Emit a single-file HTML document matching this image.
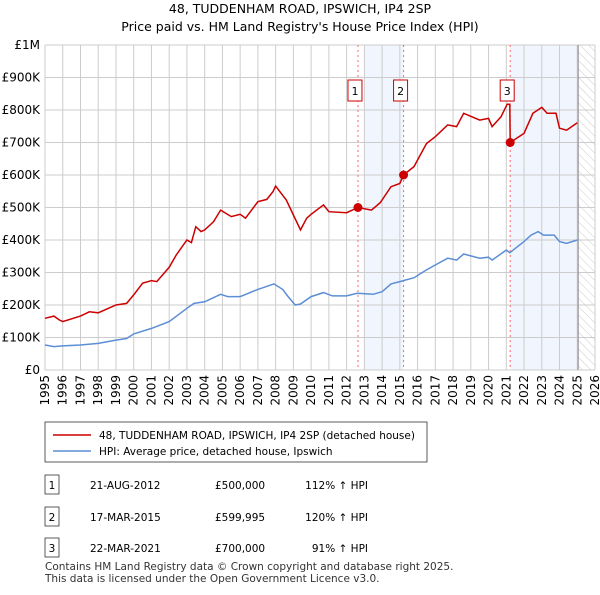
<!DOCTYPE html>
<html><head><meta charset="utf-8"><style>
body{margin:0;background:#fff;font-family:"Liberation Sans","DejaVu Sans",sans-serif;}
svg text{font-family:"DejaVu Sans","Liberation Sans",sans-serif;}
</style></head><body>
<svg id="c" width="600" height="590" viewBox="0 0 600 590">
<defs><pattern id="hatch" width="6" height="6" patternUnits="userSpaceOnUse" patternTransform="rotate(-45)"><line x1="0" y1="0" x2="0" y2="6" stroke="#ccc" stroke-width="1"/></pattern></defs>
<text x="300" y="13" text-anchor="middle" font-size="12.5">48, TUDDENHAM ROAD, IPSWICH, IP4 2SP</text>
<text x="300" y="31" text-anchor="middle" font-size="12.5">Price paid vs. HM Land Registry's House Price Index (HPI)</text>
<g id="plot"></g>
<rect x="45" y="422" width="382" height="40" fill="#fff" stroke="#333" stroke-width="0.8"/>
<line x1="53" y1="435" x2="91" y2="435" stroke="#cc0000" stroke-width="1.5"/>
<text x="99" y="439" font-size="10.5">48, TUDDENHAM ROAD, IPSWICH, IP4 2SP (detached house)</text>
<line x1="53" y1="451" x2="91" y2="451" stroke="#5b8ed6" stroke-width="1.5"/>
<text x="99" y="455" font-size="10.5">HPI: Average price, detached house, Ipswich</text>
<g id="tbl" font-size="10.5"></g>
<text x="45" y="570" font-size="10.5" fill="#333">Contains HM Land Registry data © Crown copyright and database right 2025.</text>
<text x="45" y="582" font-size="10.5" fill="#333">This data is licensed under the Open Government Licence v3.0.</text>
</svg>
<script>
const hpiYears=[1995,1995.5,1996,1997,1998,1999,1999.6,2000,2001,2002,2003,2003.4,2004,2004.9,2005.3,2006,2007,2007.9,2008.4,2008.7,2009.1,2009.4,2010,2010.7,2011.2,2012,2012.6,2013.5,2014,2014.5,2015,2015.8,2016.5,2017,2017.7,2018.2,2018.6,2019.5,2020,2020.2,2021,2021.2,2022,2022.4,2022.8,2023.1,2023.7,2024,2024.4,2025];
const hpiValues=[77,72,74,77,82,92,97,111,128,149,190,205,210,233,226,226,248,265,248,226,200,203,226,238,228,228,236,233,241,265,272,284,308,323,344,338,357,344,347,338,369,361,395,415,426,415,415,395,390,400];
const ppYears=[1995,1995.5,1995.8,1996,1997,1997.5,1998,1999,1999.6,2000,2000.5,2001,2001.3,2002,2002.4,2003,2003.25,2003.5,2003.8,2004,2004.5,2004.9,2005.5,2006,2006.3,2007,2007.5,2007.85,2008,2008.6,2009,2009.4,2009.75,2010,2010.7,2011.0,2012,2012.64,2013.4,2013.9,2014.5,2015.0,2015.2,2015.8,2016.5,2017,2017.7,2018.2,2018.6,2019.5,2020,2020.2,2020.7,2021.05,2021.2,2021.22,2022,2022.5,2023,2023.3,2023.8,2024,2024.4,2025];
const ppValues=[159,166,154,149,166,179,176,200,205,231,267,275,272,316,354,400,392,441,426,431,456,492,472,479,467,518,525,549,566,523,477,431,467,479,508,487,484,500,492,515,564,574,600,626,697,718,754,749,790,769,774,749,779,818,818,700,728,790,808,790,790,744,738,761];
const saleYears=[2012.64,2015.21,2021.22];
const saleValues=[500,599.995,700];
const saleLabels=["1","2","3"];
const saleDates=["21-AUG-2012","17-MAR-2015","22-MAR-2021"];
const salePrices=["£500,000","£599,995","£700,000"];
const saleHpi=["112% ↑ HPI","120% ↑ HPI","91% ↑ HPI"];
const yTicks=[0,100,200,300,400,500,600,700,800,900,1000];
const yTickLabels=["£0","£100K","£200K","£300K","£400K","£500K","£600K","£700K","£800K","£900K","£1M"];
const xTicks=[1995,1996,1997,1998,1999,2000,2001,2002,2003,2004,2005,2006,2007,2008,2009,2010,2011,2012,2013,2014,2015,2016,2017,2018,2019,2020,2021,2022,2023,2024,2025,2026];

const NS="http://www.w3.org/2000/svg";
const X0=45,X1=595,Y0=370,Y1=45;
const xs=y=>X0+(y-1995)/(2026-1995)*(X1-X0);
const ys=v=>Y0-v/1000*(Y0-Y1);
const plot=document.getElementById('plot');
function mk(t,a,p){const e=document.createElementNS(NS,t);for(const k in a)e.setAttribute(k,a[k]);(p||plot).appendChild(e);return e;}
let s=mk('rect',{x:xs(2013),y:Y1,width:xs(saleYears[1])-xs(2013),height:Y0-Y1,fill:'#eef3fc',opacity:0.8});


s=mk('rect',{x:xs(saleYears[2]),y:Y1,width:xs(2025.05)-xs(saleYears[2]),height:Y0-Y1,fill:'#eef3fc',opacity:0.8});


s=mk('rect',{x:xs(2025.05),y:Y1,width:X1-xs(2025.05),height:Y0-Y1,fill:'url(#hatch)'});


yTicks.forEach((v,i)=>{
 const l=mk('line',{x1:X0,x2:X1,y1:ys(v),y2:ys(v),stroke:'#cccccc','stroke-width':1});
 
 
 const t=mk('text',{x:X0-5,y:ys(v)+4,'text-anchor':'end','font-size':12});
 t.textContent=yTickLabels[i];
 
 
});
xTicks.forEach(y=>{
 const l=mk('line',{x1:xs(y),x2:xs(y),y1:Y1,y2:Y0,stroke:'#cccccc','stroke-width':1});
 
 
 const tx=xs(y)+4, ty=Y0+5;
 const t=mk('text',{x:tx,y:ty,'text-anchor':'end','font-size':12,transform:'rotate(-90 '+tx+' '+ty+')'});
 t.textContent=y;
 
 
});
let e=mk('line',{x1:xs(2025.05),x2:xs(2025.05),y1:Y1,y2:Y0,stroke:'#888','stroke-width':1});


saleYears.forEach((y,i)=>{
 const l=mk('line',{x1:xs(y),x2:xs(y),y1:Y1,y2:Y0,stroke:'#ff6666','stroke-width':1,'stroke-dasharray':'2,3'});
 
 
});
function path(xa,va){return xa.map((y,i)=>(i?'L':'M')+xs(y).toFixed(1)+','+ys(va[i]).toFixed(1)).join('');}
e=mk('path',{d:path(hpiYears,hpiValues),fill:'none',stroke:'#5b8ed6','stroke-width':1.5});


e=mk('path',{d:path(ppYears,ppValues),fill:'none',stroke:'#cc0000','stroke-width':1.5});


saleYears.forEach((y,i)=>{
 const c=mk('circle',{cx:xs(y),cy:ys(saleValues[i]),r:4.5,fill:'#cc0000'});
 
 
 const bx=xs(y)-10;
 const r=mk('rect',{x:bx,y:80,width:14,height:21,fill:'#fff',stroke:'#cc0000','stroke-width':1});
 
 
 const t=mk('text',{x:bx+7,y:95,'text-anchor':'middle','font-size':11});
 t.textContent=saleLabels[i];
 
 
});
const tbl=document.getElementById('tbl');
const rowY=[485,517,548];
saleLabels.forEach((lab,i)=>{
 const r=mk('rect',{x:45,y:rowY[i]-10,width:14,height:19,fill:'#fff',stroke:'#333','stroke-width':0.8},tbl);
 
 
 const cells=[[52,lab,'middle'],[90,saleDates[i],'start'],[215,salePrices[i],'start'],[368,saleHpi[i],'end']];
 cells.forEach((c,j)=>{
  const t=mk('text',{x:c[0],y:rowY[i]+4,'text-anchor':c[2]},tbl);
  t.textContent=c[1];
  
  
 });
});
</script>
</body></html>
